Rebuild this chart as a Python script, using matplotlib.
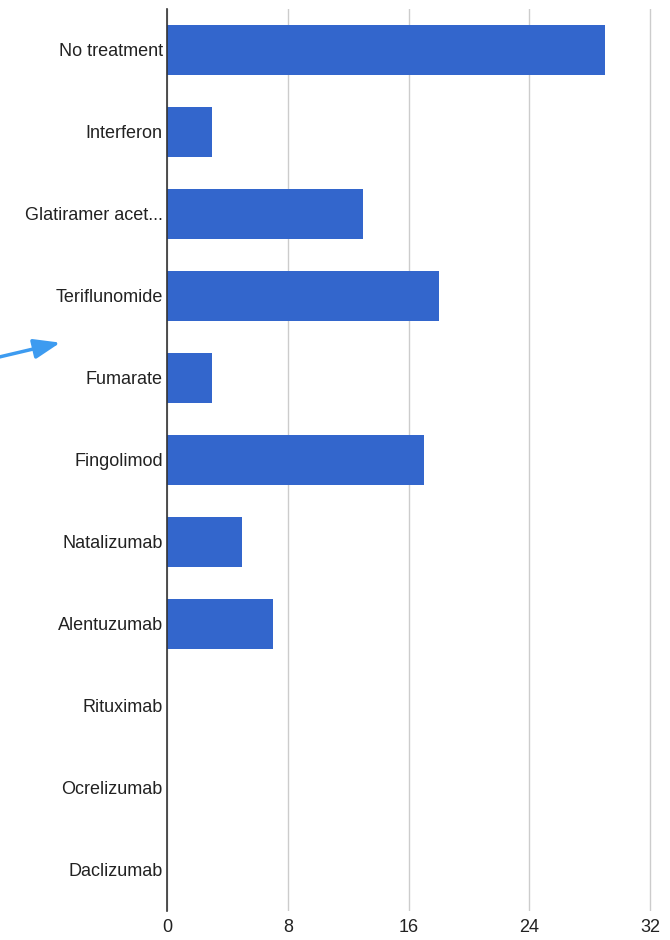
import matplotlib.pyplot as plt
from matplotlib.patches import FancyArrowPatch

plt.rcParams['font.family'] = ['Liberation Sans', 'DejaVu Sans']

treatments = ['No treatment', 'Interferon', 'Glatiramer acet...', 'Teriflunomide',
              'Fumarate', 'Fingolimod', 'Natalizumab', 'Alentuzumab',
              'Rituximab', 'Ocrelizumab', 'Daclizumab']
counts = [29, 3, 13, 18, 3, 17, 5, 7, 0, 0, 0]
x_ticks = [0, 8, 16, 24, 32]

fig = plt.figure(figsize=(6.7, 9.4), dpi=100)
ax = fig.add_axes([167 / 670, 1 - 911 / 940, (652 - 167) / 670, (911 - 9) / 940])

ypos = list(range(len(treatments)))
ax.barh(ypos, counts, height=0.61, color='#3366cc', zorder=3)
ax.set_ylim(len(treatments) - 0.5, -0.5)
ax.set_xlim(0, 32 * 485 / 483)
ax.set_xticks(x_ticks)
ax.set_xticklabels([str(t) for t in x_ticks])
ax.set_yticks(ypos)
ax.set_yticklabels(treatments)

ax.grid(axis='x', color='#cccccc', linewidth=1, zorder=0)
for side in ['top', 'right', 'bottom']:
    ax.spines[side].set_visible(False)
ax.spines['left'].set_color('#333333')
ax.spines['left'].set_linewidth(1.2)
ax.spines['left'].set_zorder(4)
ax.tick_params(axis='both', length=0, labelsize=13, colors='#222222')
ax.tick_params(axis='y', pad=3)
ax.tick_params(axis='x', pad=6)

# blue pointer arrow at the left edge
fig.add_artist(FancyArrowPatch(
    (-5 / 670, 1 - 358 / 940), (63 / 670, 1 - 342 / 940),
    transform=fig.transFigure, arrowstyle='-|>,head_length=16,head_width=6',
    color='#3d9bf0', linewidth=2.5, mutation_scale=1))

fig.savefig('out.png', dpi=100)
